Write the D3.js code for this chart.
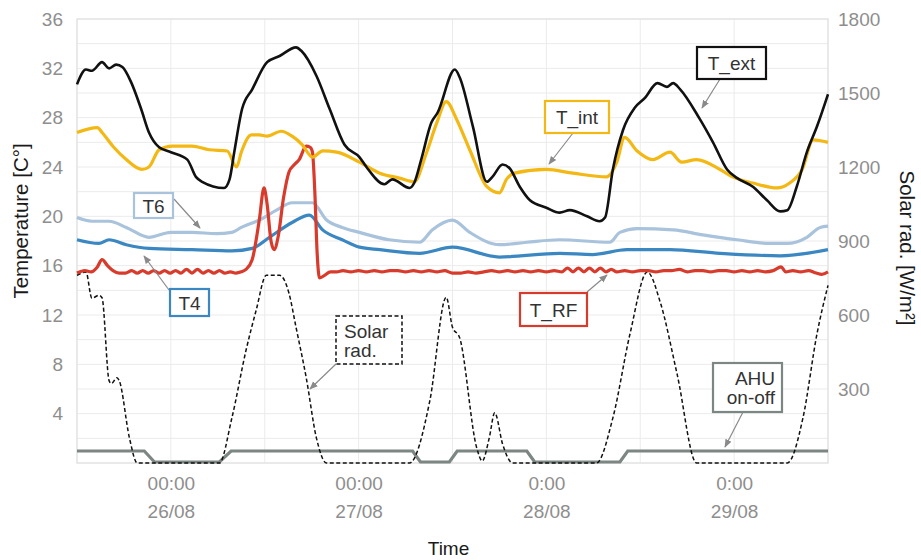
<!DOCTYPE html>
<html>
<head>
<meta charset="utf-8">
<script src="https://cdn.jsdelivr.net/npm/d3@7"></script>
<style>
  html, body { margin: 0; padding: 0; background: #fff; }
  svg { display: block; font-family: "Liberation Sans", Arial, sans-serif; }
</style>
</head>
<body>
<svg id="chart" width="921" height="560"></svg>
<script>
// Time in hours from 25/08 12:00; values in °C (temperatures) and W/m² (solar).
const tempTicks = [4, 8, 12, 16, 20, 24, 28, 32, 36];
const solarTicks = [300, 600, 900, 1200, 1500, 1800];
const timeTicks = [12, 36, 60, 84];
const timeLabels = [["00:00", "26/08"], ["00:00", "27/08"], ["0:00", "28/08"], ["0:00", "29/08"]];

const tExt = [[0,30.7],[1.15,31.9],[1.9,31.8],[3.2,32.5],[4.1,32.0],[5.0,32.3],[5.8,32.1],[6.9,30.9],[8.2,28.7],[9.2,26.8],[10.5,25.6],[12.0,25.2],[14.1,24.6],[15.2,23.2],[16.0,22.8],[18.8,22.3],[19.5,23.0],[20.1,25.2],[21.1,28.7],[22.4,30.3],[24.3,32.5],[25.9,33.0],[28.0,33.7],[28.7,33.4],[30.6,31.4],[32.3,28.7],[34.2,25.8],[36.1,24.8],[37.0,24.0],[39.3,22.6],[40.3,23.0],[42.5,22.3],[43.1,22.7],[44.0,24.6],[45.3,27.6],[46.1,28.4],[48.3,31.9],[48.9,31.3],[50.6,27.3],[52.4,22.8],[53.1,23.2],[54.4,24.2],[55.3,23.9],[56.6,22.4],[57.9,21.3],[60.0,20.7],[61.7,20.3],[63.0,20.5],[65.2,20.0],[66.8,19.6],[67.5,19.9],[68.5,23.8],[69.8,27.0],[71.3,28.8],[72.6,29.6],[74.2,30.8],[75.4,30.5],[76.2,30.8],[77.1,30.3],[79.6,27.9],[81.3,26.0],[83.1,23.8],[84.4,23.1],[86.4,22.4],[88.2,21.3],[89.9,20.4],[90.8,20.5],[92.0,22.4],[93.3,25.2],[94.6,27.3],[96,29.9]];

const tInt = [[0,26.8],[2.6,27.2],[3.2,26.8],[4.7,25.6],[6.3,24.6],[8.3,23.8],[9.2,24.0],[10.5,25.4],[12.2,25.7],[14.7,25.7],[16.9,25.4],[19.2,25.3],[20.4,24.0],[21.0,25.2],[22.3,26.6],[23.3,26.6],[24.3,26.5],[26.1,26.9],[27.5,26.5],[28.8,25.8],[30.1,24.8],[31.4,25.3],[33.2,25.2],[36.1,24.4],[38.7,23.5],[41.2,23.1],[43.1,22.8],[44.7,25.2],[46.0,27.6],[47.2,29.3],[48.5,27.9],[50.2,25.4],[52.4,22.4],[54.0,21.9],[54.9,23.0],[55.9,23.5],[60.0,23.8],[63.4,23.5],[67.7,23.2],[69.0,24.4],[70.0,26.4],[71.6,25.3],[73.6,24.6],[75.8,25.2],[77.3,24.4],[79.2,24.6],[82.2,23.8],[83.8,23.2],[86.4,22.7],[89.5,22.3],[91.1,22.7],[92.7,23.8],[94.1,26.2],[96,26.0]];

const t6 = [[0,19.9],[1.9,19.6],[4.1,19.6],[6.3,19.1],[9.2,18.3],[12.0,18.7],[14.7,18.7],[17.8,18.6],[19.8,18.7],[21.0,19.1],[23.3,19.7],[25.5,20.5],[27.5,21.1],[30.1,21.1],[31.9,19.7],[33.9,19.1],[36.1,18.7],[39.9,18.1],[43.8,17.9],[45.4,18.9],[48.0,19.7],[50.2,18.7],[54.0,17.7],[57.5,17.9],[61.7,18.1],[68.1,17.9],[69.4,18.7],[71.6,19.0],[76.2,18.9],[80.0,18.5],[84.4,18.1],[88.6,17.8],[90.8,17.8],[93.3,18.3],[95.0,19.1],[96,19.2]];

const t4 = [[0,18.1],[2.8,17.8],[4.1,18.1],[6.3,17.7],[9.2,17.4],[14.7,17.3],[19.8,17.2],[22.4,17.4],[24.6,18.3],[27.5,19.5],[29.7,20.1],[31.4,18.9],[33.9,18.1],[36.1,17.5],[38.7,17.3],[43.8,17.0],[48.0,17.5],[54.0,16.7],[61.7,17.0],[65.9,16.9],[70.3,17.3],[75.8,17.3],[82.2,17.0],[89.9,16.8],[96,17.3]];

const tRF = [[0,15.4],[1,15.6],[1.8,15.5],[2.6,15.9],[3.2,16.5],[3.9,16.0],[4.6,15.6],[5.4,15.4],[6.2,15.4],[7,15.6],[7.7,15.4],[8.4,15.6],[9.1,15.4],[9.8,15.6],[10.5,15.4],[11.2,15.6],[11.9,15.4],[12.6,15.6],[13.3,15.4],[14,15.7],[14.7,15.4],[15.4,15.7],[16.1,15.4],[16.8,15.6],[17.5,15.4],[18.2,15.6],[18.9,15.4],[19.6,15.5],[20.3,15.4],[21,15.5],[21.6,15.7],[22.4,16.5],[23.3,19.7],[23.9,22.3],[24.3,21.0],[24.8,18.0],[25.2,17.3],[25.7,18.3],[26.4,21.5],[27.1,23.6],[27.8,24.2],[28.4,24.6],[29.3,25.7],[29.8,25.6],[30.1,25.2],[30.4,22.0],[30.7,17.0],[31,15.0],[31.6,15.2],[32.4,15.5],[33.2,15.5],[34,15.6],[35,15.5],[36,15.6],[37,15.5],[38,15.6],[39,15.5],[40,15.6],[41,15.6],[42,15.5],[43,15.6],[44,15.5],[45,15.6],[46,15.5],[47,15.6],[48,15.4],[49,15.4],[50,15.5],[51,15.4],[52,15.5],[53,15.6],[54,15.5],[55,15.6],[56,15.5],[57,15.6],[58,15.5],[59,15.6],[60,15.5],[61,15.6],[62,15.5],[62.7,15.8],[63.4,15.5],[64.1,15.8],[64.8,15.5],[65.5,15.8],[66.2,15.5],[66.9,15.8],[67.6,15.5],[68.3,15.7],[69,15.5],[70,15.6],[71,15.5],[72,15.6],[73,15.6],[74,15.5],[75,15.6],[76,15.6],[77,15.7],[78,15.5],[79,15.6],[80,15.6],[81,15.5],[82,15.6],[83,15.6],[84,15.5],[85,15.6],[86,15.5],[87,15.6],[88,15.5],[89,15.6],[90,15.9],[90.6,15.5],[91.5,15.6],[92.5,15.5],[93.5,15.6],[94.5,15.4],[95.2,15.3],[96,15.5]];

const solar = [[0,761],[1.15,774],[1.9,668],[2.8,680],[3.2,670],[4.1,334],[4.4,322],[5.1,346],[5.4,334],[6.7,102],[7.7,0],[18.2,0],[19.8,183],[21.6,456],[22.9,619],[24.2,761],[25.9,761],[27.1,688],[28.0,550],[29.3,346],[30.6,102],[31.9,0],[42.5,0],[45.1,252],[47.2,672],[48.0,550],[48.9,509],[51.1,61],[51.8,8],[52.7,102],[53.4,204],[54.4,77],[55.7,0],[66.4,0],[68.5,183],[70.7,525],[72.9,774],[74.6,647],[76.7,362],[79.2,0],[90.8,0],[92.8,183],[94.6,525],[96,720]];

const ahu = [[0,1],[8.6,1],[9.9,0],[18.2,0],[19.7,1],[42.9,1],[43.9,0],[47.6,0],[48.6,1],[57.5,1],[58.5,0],[69.4,0],[70.4,1],[96,1]];

const svg = d3.select("#chart");
const pL = 77, pR = 828, pT = 19, pB = 463;

const x = d3.scaleLinear().domain([0, 96]).range([pL, pR]);
const yT = d3.scaleLinear().domain([0, 36]).range([pB, pT]);
const yS = d3.scaleLinear().domain([0, 1800]).range([pB, pT]);
const yA = d3.scaleLinear().domain([0, 1]).range([pB - 1, pB - 12]);

// grid
const grid = svg.append("g");
grid.selectAll("line.h").data(d3.range(2, 36, 2)).join("line")
  .attr("x1", pL).attr("x2", pR)
  .attr("y1", d => yT(d)).attr("y2", d => yT(d))
  .attr("stroke", "#ebebeb").attr("stroke-width", 1);
grid.selectAll("line.v").data(d3.range(12, 96, 12)).join("line")
  .attr("x1", d => x(d)).attr("x2", d => x(d))
  .attr("y1", pT).attr("y2", pB)
  .attr("stroke", "#ebebeb").attr("stroke-width", 1);
svg.append("rect").attr("x", pL).attr("y", pT)
  .attr("width", pR - pL).attr("height", pB - pT)
  .attr("fill", "none").attr("stroke", "#e2e2e2").attr("stroke-width", 1.5);

// axes
const tickColor = "#8e8e8e";
const axL = svg.append("g").attr("transform", `translate(${pL},0)`)
  .call(d3.axisLeft(yT).tickValues(tempTicks).tickSize(0).tickPadding(14));
const axR = svg.append("g").attr("transform", `translate(${pR},0)`)
  .call(d3.axisRight(yS).tickValues(solarTicks).tickSize(0).tickPadding(10).tickFormat(d3.format("d")));
const axB = svg.append("g").attr("transform", `translate(0,${pB})`)
  .call(d3.axisBottom(x).tickValues(timeTicks).tickSize(0).tickPadding(8).tickFormat(""));
[axL, axR, axB].forEach(a => {
  a.select(".domain").remove();
  a.selectAll("text").attr("fill", tickColor).style("font-size", "19px")
    .style("font-family", "'Liberation Sans', Arial, sans-serif");
});
axB.selectAll(".tick text").each(function(d, i) {
  const t = d3.select(this).text(null).attr("dy", null).attr("y", 0);
  timeLabels[i].forEach((s, k) => {
    t.append("tspan").attr("x", 0).attr("y", 27 + k * 28).text(s);
  });
});

// axis titles
svg.append("text").attr("transform", "translate(28,221) rotate(-90)")
  .attr("text-anchor", "middle").attr("fill", "#1a1a1a").style("font-size", "20.5px")
  .text("Temperature [C°]");
svg.append("text").attr("transform", "translate(900,248) rotate(90)")
  .attr("text-anchor", "middle").attr("fill", "#1a1a1a").style("font-size", "20.5px")
  .text("Solar rad. [W/m²]");
svg.append("text").attr("x", (pL + pR) / 2 - 4).attr("y", 555)
  .attr("text-anchor", "middle").attr("fill", "#1a1a1a").style("font-size", "19px")
  .text("Time");

// series
const plot = svg.append("g");
const lineT = d3.line().x(d => x(d[0])).y(d => yT(d[1])).curve(d3.curveMonotoneX);
const lineS = d3.line().x(d => x(d[0])).y(d => yS(d[1])).curve(d3.curveMonotoneX)
  .defined((d, i, arr) => d[1] > 0 || (arr[i - 1] && arr[i - 1][1] > 0) || (arr[i + 1] && arr[i + 1][1] > 0));
const lineA = d3.line().x(d => x(d[0])).y(d => yA(d[1]));

plot.append("path").datum(ahu).attr("d", lineA)
  .attr("fill", "none").attr("stroke", "#7c8683").attr("stroke-width", 3.2);
plot.append("path").datum(solar).attr("d", lineS)
  .attr("fill", "none").attr("stroke", "#111").attr("stroke-width", 1.5)
  .attr("stroke-dasharray", "4,2.5");
const series = [
  { data: t4, color: "#3b87c2", w: 3.2 },
  { data: t6, color: "#a9c3dc", w: 3.2 },
  { data: tRF, color: "#d83b2c", w: 3.2 },
  { data: tInt, color: "#f3b814", w: 3.2 },
  { data: tExt, color: "#111111", w: 2.6 }
];
series.forEach(s => {
  plot.append("path").datum(s.data).attr("d", lineT)
    .attr("fill", "none").attr("stroke", s.color).attr("stroke-width", s.w)
    .attr("stroke-linejoin", "round");
});

// callout labels
const defs = svg.append("defs");
defs.append("marker").attr("id", "arrowhead").attr("viewBox", "0 0 10 10")
  .attr("refX", 9).attr("refY", 5).attr("markerWidth", 7).attr("markerHeight", 7)
  .attr("orient", "auto-start-reverse")
  .append("path").attr("d", "M0,1 L10,5 L0,9 Z").attr("fill", "#8a8a8a");

const callouts = [
  { lines: ["T_ext"], color: "#111", box: [697, 47, 69, 32], anchor: "middle", arrow: [[720, 79], [702, 108]] },
  { lines: ["T_int"], color: "#f3b814", box: [545, 101, 64, 32], anchor: "middle", arrow: [[573, 133], [549, 164]] },
  { lines: ["T6"], color: "#a9c3dc", box: [134, 193, 39, 25], anchor: "middle", arrow: [[174, 199], [200, 228]] },
  { lines: ["T4"], color: "#3b87c2", box: [170, 289, 39, 27], anchor: "middle", arrow: [[169, 290], [144, 256]] },
  { lines: ["T_RF"], color: "#d83b2c", box: [520, 293, 67, 33], anchor: "middle", arrow: [[587, 292], [607, 275]] },
  { lines: ["Solar", "rad."], color: "#111", dashed: true, box: [336, 316, 66, 48], anchor: "start", arrow: [[337, 363], [310, 389]] },
  { lines: ["AHU", "on-off"], color: "#7c8683", box: [713, 363, 69, 49], anchor: "end", arrow: [[743, 412], [725, 447]] }
];
const cg = svg.append("g");
callouts.forEach(c => {
  const [bx, by, bw, bh] = c.box;
  cg.append("line").attr("x1", c.arrow[0][0]).attr("y1", c.arrow[0][1])
    .attr("x2", c.arrow[1][0]).attr("y2", c.arrow[1][1])
    .attr("stroke", "#8a8a8a").attr("stroke-width", 1.2).attr("marker-end", "url(#arrowhead)");
  cg.append("rect").attr("x", bx).attr("y", by).attr("width", bw).attr("height", bh)
    .attr("fill", "#fff").attr("stroke", c.color).attr("stroke-width", c.dashed ? 1.5 : 2.2)
    .attr("stroke-dasharray", c.dashed ? "4,2.5" : null);
  const tx = c.anchor === "middle" ? bx + bw / 2 : c.anchor === "start" ? bx + 8 : bx + bw - 7;
  const t = cg.append("text").attr("text-anchor", c.anchor).attr("fill", "#333").style("font-size", "19px");
  const n = c.lines.length;
  c.lines.forEach((s, k) => {
    t.append("tspan").attr("x", tx)
      .attr("y", by + bh / 2 + 7 + (k - (n - 1) / 2) * 19).text(s);
  });
});
</script>
</body>
</html>
